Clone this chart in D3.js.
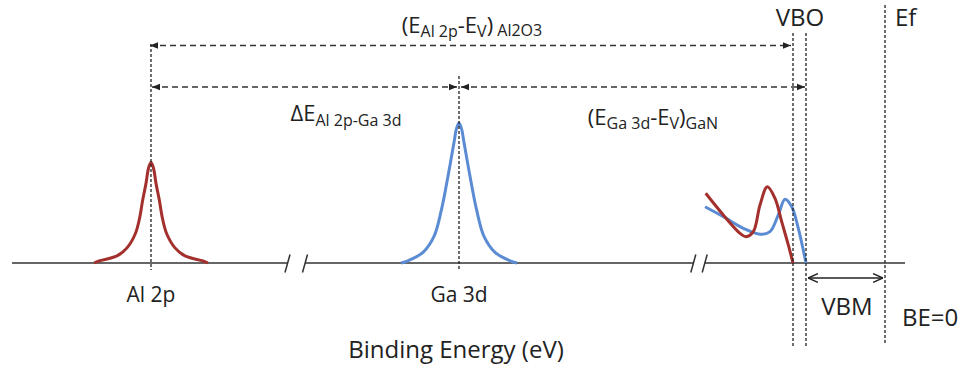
<!DOCTYPE html>
<html><head><meta charset="utf-8">
<script src="https://cdn.jsdelivr.net/npm/d3@7"></script>
<style>
html,body{margin:0;padding:0;background:#fff;}
svg{display:block;font-family:"Open Sans",Lato,sans-serif;}
</style></head><body>
<svg id="chart" width="963" height="372"></svg>
<script>
// ---- Data (schematic binding energy, arbitrary units; BE = 0 at Fermi level) ----
const axisDomain = [87.3, -2.0];
const axisBreaks = [[59.75, 58.0], [19.17, 18.03]];
const coreLabels = ["Al 2p", "Ga 3d"];
const coreCenters = [73.4, 42.6];
const coreHeights = [0.72, 1.0];
const al2pOffsets = [0, 0.25, 0.5, 0.84, 1.13, 1.57, 2.4, 3.4, 5.2, 5.7];
const al2pProfile = [1, 0.94, 0.79, 0.62, 0.45, 0.29, 0.15, 0.07, 0.02, 0];
const ga3dOffsets = [0, 0.25, 0.5, 1.1, 1.76, 2.5, 3.6, 5.1, 5.8];
const ga3dProfile = [1, 0.96, 0.86, 0.62, 0.38, 0.19, 0.076, 0.016, 0];
const vbAl2o3BE = [17.93, 16.17, 14.5, 13.9, 13.17, 12.5, 11.77, 11.0, 10.33, 9.67, 9.2];
const vbAl2o3I  = [0.498, 0.343, 0.212, 0.188, 0.224, 0.414, 0.545, 0.462, 0.295, 0.129, 0];
const vbGanBE = [18.0, 16.17, 14.17, 12.5, 11.5, 10.67, 10.0, 9.33, 8.67, 7.9];
const vbGanI  = [0.402, 0.331, 0.248, 0.205, 0.224, 0.343, 0.455, 0.402, 0.248, 0];
const vbmAl2o3 = 9.2;
const vbmGaN = 7.9;
const fermiLevel = 0;

// ---- Styles ----
const RED = "#A3302C", BLUE = "#5B8CD3", INK = "#222";

const svg = d3.select("#chart");
const x = d3.scaleLinear().domain(axisDomain).range([12, 905]);
const y = d3.scaleLinear().domain([0, 1]).range([263, 123]);
const baseY = y(0);

const defs = svg.append("defs");
defs.append("marker").attr("id","tri").attr("viewBox","0 0 10 10")
  .attr("refX",10).attr("refY",5).attr("markerWidth",8).attr("markerHeight",8)
  .attr("markerUnits","userSpaceOnUse").attr("orient","auto-start-reverse")
  .append("path").attr("d","M0,1 L10,5 L0,9 Z").attr("fill",INK);
defs.append("marker").attr("id","chev").attr("viewBox","0 0 10 10")
  .attr("refX",10).attr("refY",5).attr("markerWidth",11).attr("markerHeight",11)
  .attr("markerUnits","userSpaceOnUse").attr("orient","auto-start-reverse")
  .append("path").attr("d","M1,1 L10,5 L1,9").attr("fill","none").attr("stroke",INK).attr("stroke-width",1.3);

// ---- Axis with breaks ----
const segs = [];
let start = axisDomain[0];
axisBreaks.forEach(b => { segs.push([start, b[0]]); start = b[1]; });
segs.push([start, axisDomain[1]]);
svg.append("g").selectAll("line").data(segs).join("line")
  .attr("x1", d => x(d[0])).attr("x2", d => x(d[1]))
  .attr("y1", baseY).attr("y2", baseY)
  .attr("stroke", "#333").attr("stroke-width", 1.5);
svg.append("g").selectAll("line").data(axisBreaks.flat()).join("line")
  .attr("x1", d => x(d) - 2.5).attr("y1", baseY + 9.5)
  .attr("x2", d => x(d) + 2.5).attr("y2", baseY - 8.5)
  .attr("stroke", "#333").attr("stroke-width", 1.5);

// ---- Core-level peaks ----
const profiles = [[al2pOffsets, al2pProfile], [ga3dOffsets, ga3dProfile]];
const peakColors = [RED, BLUE];
const peakLine = d3.line().x(d => x(d[0])).y(d => y(d[1])).curve(d3.curveCatmullRom.alpha(0.5));
profiles.forEach((p, k) => {
  const [off, prof] = p, c = coreCenters[k], h = coreHeights[k];
  const pts = [];
  for (let i = off.length - 1; i > 0; i--) pts.push([c + off[i], prof[i] * h]);
  pts.push([c, h]);
  for (let i = 1; i < off.length; i++) pts.push([c - off[i], prof[i] * h]);
  svg.append("path").attr("d", peakLine(pts)).attr("fill","none")
    .attr("stroke", peakColors[k]).attr("stroke-width", 3).attr("stroke-linejoin","round");
});

// ---- Valence band spectra ----
const vbLine = d3.line().x(d => x(d[0])).y(d => y(d[1])).curve(d3.curveCatmullRom.alpha(0.5));
svg.append("path").attr("d", vbLine(d3.zip(vbGanBE, vbGanI))).attr("fill","none")
  .attr("stroke", BLUE).attr("stroke-width", 3);
svg.append("path").attr("d", vbLine(d3.zip(vbAl2o3BE, vbAl2o3I))).attr("fill","none")
  .attr("stroke", RED).attr("stroke-width", 3);

// ---- Vertical dashed guides ----
const vdash = (v, y1, y2) => svg.append("line")
  .attr("x1", x(v)).attr("x2", x(v)).attr("y1", y1).attr("y2", y2)
  .attr("stroke", INK).attr("stroke-width", 1.3).attr("stroke-dasharray", "3,2");
vdash(coreCenters[0], 44, 270);
vdash(coreCenters[1], 76, 270);
vdash(vbmAl2o3, 33, 346);
vdash(vbmGaN, 33, 346);
vdash(fermiLevel, 5, 344);

// ---- Horizontal dashed arrows ----
const harrow = (a, b, yy) => svg.append("line")
  .attr("x1", a).attr("x2", b).attr("y1", yy).attr("y2", yy)
  .attr("stroke", "#333").attr("stroke-width", 1.6).attr("stroke-dasharray", "6,4")
  .attr("marker-start", "url(#tri)").attr("marker-end", "url(#tri)");
harrow(x(coreCenters[0]) - 1, x(vbmAl2o3) - 2, 45.5);
harrow(x(coreCenters[0]) + 1, x(coreCenters[1]) - 2, 87);
harrow(x(coreCenters[1]) + 2, x(vbmGaN) - 1, 87);

// VBM solid arrow
svg.append("line").attr("x1", x(vbmGaN) + 2).attr("x2", x(fermiLevel) - 2)
  .attr("y1", 278).attr("y2", 278).attr("stroke", INK).attr("stroke-width", 1.3)
  .attr("marker-start", "url(#chev)").attr("marker-end", "url(#chev)");

// ---- Text ----
const txt = (s, xx, yy, size, anchor) => svg.append("text")
  .attr("x", xx).attr("y", yy).attr("font-size", size)
  .attr("text-anchor", anchor || "middle").attr("fill", INK).text(s);

coreLabels.forEach((l, k) => txt(l, x(coreCenters[k]), 302, 21));
txt("Binding Energy (eV)", 456, 358, 24);
txt("VBO", 800, 26, 24);
txt("Ef", 895, 26, 24, "start");
txt("VBM", 847, 315, 24);
txt("BE=0", 902, 326, 24, "start");

// labels with subscripts
const subText = (parts, xx, yy) => {
  const t = svg.append("text").attr("x", xx).attr("y", yy)
    .attr("text-anchor", "middle").attr("fill", INK);
  parts.forEach(p => {
    t.append("tspan").attr("font-size", p[1] ? 16 : 22)
      .attr("dy", p[2] || 0).text(p[0]);
  });
  return t;
};
subText([["(E",0],["Al 2p",1,4],["-E",0,-4],["V",1,4],[")",0,-4],[" Al2O3",1,3]], 472, 33);
subText([["ΔE",0],["Al 2p-Ga 3d",1,5]], 346, 121);
subText([["(E",0],["Ga 3d",1,4],["-E",0,-4],["V",1,4],[")",0,-4],["GaN",1,4]], 653, 125);
</script>
</body></html>
